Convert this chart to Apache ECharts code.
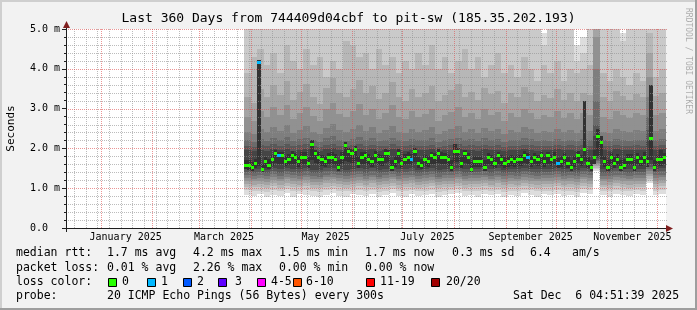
<!DOCTYPE html>
<html><head><meta charset="utf-8">
<script src="https://cdn.jsdelivr.net/npm/echarts@6/dist/echarts.min.js"></script>
<style>html,body{margin:0;padding:0;background:#f2f2f2;}#c{width:697px;height:310px;}</style>
</head><body><div id="c"></div>
<script>
// ---------------- data ----------------
const titleText = 'Last 360 Days from 744409d04cbf to pit-sw (185.35.202.193)';
const startTs = Date.UTC(2024, 11, 11, 4, 51, 39);   // now - 360 days
const spanDays = 360;
const dataStartDay = 106.8;                           // first day with data
const monthLabels = ['January 2025', 'March 2025', 'May 2025', 'July 2025', 'September 2025', 'November 2025'];
const monthLabelMonths = [0, 2, 4, 6, 8, 10];
const yTickLabels = ['0.0', '1.0 m', '2.0 m', '3.0 m', '4.0 m', '5.0 m'];

// median rtt (ms), one value per 2-day column
const median = [
1.58,1.58,1.51,1.63,4.17,1.47,1.66,1.58,1.71,1.86,
1.81,1.81,1.66,1.73,1.83,1.76,1.66,1.76,1.78,1.63,
2.11,1.86,1.78,1.71,1.66,1.76,1.78,1.73,1.51,1.76,
2.08,1.91,1.88,1.98,1.63,1.76,1.81,1.73,1.66,1.83,
1.73,1.71,1.88,1.88,1.53,1.66,1.88,1.63,1.73,1.78,
1.73,1.91,1.63,1.58,1.71,1.66,1.81,1.76,1.88,1.78,
1.76,1.71,1.51,1.91,1.91,1.63,1.86,1.76,1.46,1.66,
1.66,1.66,1.51,1.76,1.71,1.63,1.81,1.71,1.63,1.66,
1.71,1.66,1.71,1.71,1.83,1.76,1.66,1.76,1.71,1.81,
1.66,1.81,1.71,1.78,1.61,1.66,1.76,1.63,1.53,1.66,
1.83,1.71,1.96,1.63,1.51,1.78,2.29,2.14,1.66,1.53,
1.76,1.63,1.73,1.51,1.58,1.73,1.73,1.51,1.76,1.68,
1.78,1.66,2.24,1.53,1.71,1.71,1.76];
// packet loss per column (index, lost pings); all others 0
const lossPoints = [[4,1],[10,1],[50,1],[85,1],[94,1]];
// innermost smoke (pings 10 and 11), same columns as median
const p10 = [
1.47,1.45,1.42,1.50,1.55,1.40,1.52,1.48,1.56,1.64,
1.62,1.60,1.55,1.58,1.62,1.60,1.54,1.60,1.61,1.52,
1.70,1.64,1.60,1.56,1.53,1.60,1.62,1.58,1.44,1.60,
1.68,1.66,1.64,1.68,1.52,1.60,1.62,1.58,1.54,1.63,
1.58,1.56,1.64,1.65,1.44,1.53,1.64,1.52,1.58,1.60,
1.58,1.66,1.52,1.48,1.56,1.54,1.62,1.60,1.64,1.61,
1.60,1.56,1.43,1.66,1.66,1.52,1.64,1.60,1.40,1.54,
1.54,1.54,1.44,1.60,1.56,1.52,1.62,1.56,1.52,1.54,
1.56,1.54,1.56,1.56,1.63,1.60,1.54,1.60,1.56,1.62,
1.54,1.62,1.56,1.61,1.50,1.54,1.60,1.52,1.44,1.54,
1.63,1.56,1.68,1.52,1.43,1.62,1.80,1.74,1.54,1.44,
1.60,1.52,1.58,1.43,1.48,1.58,1.58,1.43,1.60,1.55,
1.61,1.54,1.72,1.44,1.56,1.56,1.60];
const p11 = [
1.72,1.70,1.66,1.74,4.22,1.62,1.78,1.74,1.84,1.95,
1.92,1.90,1.82,1.86,1.94,1.88,1.80,1.90,1.90,1.78,
2.22,1.96,1.90,1.84,1.80,1.88,1.92,1.86,1.70,1.90,
2.16,2.00,1.98,2.06,1.80,1.90,1.92,1.86,1.82,1.94,
1.86,1.84,1.98,1.97,1.72,1.80,1.98,1.78,1.86,1.90,
1.86,2.00,1.78,1.74,1.84,1.80,1.92,1.88,1.98,1.90,
1.88,1.84,1.70,2.10,2.00,1.78,1.96,1.88,1.66,1.80,
1.78,1.80,1.70,1.88,1.84,1.78,1.92,1.84,1.78,1.80,
1.84,1.80,1.84,1.84,1.94,1.88,1.80,1.88,1.84,1.92,
1.80,1.92,1.84,1.90,1.76,1.80,1.88,1.78,1.72,1.80,
1.94,1.84,3.20,1.78,1.70,1.95,2.50,2.30,1.80,1.72,
1.88,1.78,1.86,1.70,1.74,1.86,1.86,1.70,1.88,1.82,
1.90,1.80,3.60,1.72,1.84,1.96,1.88];

// sorted ping levels (ms), one value per 4-day column (64 columns)
const p1 = [
0.84,0.80,0.86,0.78,0.83,0.81,0.87,0.79,0.85,0.82,0.80,0.77,0.84,0.88,0.81,0.79,
0.85,0.83,0.80,0.86,0.78,0.84,0.88,0.81,0.79,0.85,0.80,0.83,0.86,0.78,0.82,0.85,
0.88,0.80,0.84,0.79,0.86,0.82,0.85,0.78,0.83,0.80,0.87,0.84,0.79,0.85,0.82,0.86,
0.80,0.84,0.78,0.87,0.85,1.42,0.82,0.79,0.86,0.83,0.80,0.85,0.82,1.12,0.83,0.86];
const p2 = [
0.95,0.92,0.94,0.90,0.96,0.92,0.97,0.93,0.94,0.96,0.92,0.90,0.95,0.97,0.93,0.92,
0.94,0.96,0.93,0.95,0.90,0.94,0.97,0.93,0.92,0.95,0.92,0.94,0.96,0.90,0.93,0.95,
0.97,0.92,0.94,0.92,0.96,0.93,0.95,0.90,0.94,0.93,0.96,0.95,0.92,0.94,0.93,0.96,
0.93,0.94,0.90,0.97,0.95,1.48,0.93,0.92,0.96,0.94,0.92,0.95,0.93,1.18,0.94,0.96];
const p3 = [
1.04,1.02,1.03,1.01,1.05,1.01,1.06,1.03,1.02,1.05,1.01,1.00,1.04,1.06,1.02,1.01,
1.03,1.05,1.02,1.04,1.00,1.03,1.06,1.01,1.02,1.04,1.01,1.03,1.05,1.00,1.02,1.04,
1.06,1.01,1.03,1.02,1.05,1.02,1.04,1.00,1.03,1.02,1.05,1.04,1.01,1.03,1.02,1.05,
1.02,1.03,1.01,1.06,1.04,1.52,1.02,1.01,1.05,1.03,1.01,1.04,1.02,1.24,1.03,1.05];
const p4 = [
1.11,1.09,1.11,1.08,1.13,1.09,1.14,1.10,1.09,1.12,1.08,1.07,1.12,1.14,1.10,1.09,
1.11,1.13,1.09,1.12,1.07,1.11,1.14,1.09,1.10,1.12,1.08,1.10,1.13,1.07,1.10,1.11,
1.14,1.09,1.11,1.10,1.12,1.09,1.12,1.08,1.11,1.09,1.13,1.11,1.09,1.11,1.10,1.13,
1.09,1.11,1.08,1.14,1.11,1.56,1.09,1.08,1.12,1.10,1.09,1.11,1.10,1.30,1.10,1.12];
const p5 = [
1.19,1.17,1.18,1.16,1.21,1.17,1.22,1.18,1.17,1.20,1.16,1.15,1.20,1.22,1.18,1.16,
1.19,1.21,1.17,1.20,1.15,1.18,1.22,1.17,1.18,1.20,1.16,1.18,1.21,1.15,1.18,1.19,
1.22,1.17,1.19,1.18,1.20,1.17,1.20,1.16,1.19,1.17,1.21,1.19,1.17,1.19,1.18,1.21,
1.17,1.19,1.16,1.22,1.19,1.60,1.17,1.16,1.20,1.18,1.17,1.19,1.18,1.36,1.18,1.20];
const p6 = [
1.26,1.24,1.25,1.23,1.28,1.24,1.29,1.25,1.24,1.27,1.23,1.22,1.27,1.29,1.25,1.23,
1.26,1.28,1.24,1.27,1.22,1.25,1.29,1.24,1.25,1.27,1.23,1.25,1.28,1.22,1.25,1.26,
1.29,1.24,1.26,1.25,1.27,1.24,1.27,1.23,1.26,1.24,1.28,1.26,1.24,1.26,1.25,1.28,
1.24,1.26,1.23,1.29,1.26,1.64,1.24,1.23,1.27,1.25,1.24,1.26,1.25,1.42,1.25,1.27];
const p7 = [
1.33,1.31,1.33,1.30,1.35,1.31,1.36,1.32,1.31,1.34,1.30,1.29,1.34,1.36,1.32,1.30,
1.33,1.35,1.31,1.34,1.29,1.32,1.36,1.31,1.32,1.34,1.30,1.32,1.35,1.29,1.32,1.33,
1.36,1.31,1.33,1.32,1.34,1.31,1.34,1.30,1.33,1.31,1.35,1.33,1.31,1.33,1.32,1.35,
1.31,1.33,1.30,1.36,1.33,1.68,1.31,1.30,1.34,1.32,1.31,1.33,1.32,1.48,1.32,1.34];
const p8 = [
1.41,1.39,1.40,1.38,1.43,1.39,1.44,1.40,1.39,1.42,1.38,1.37,1.42,1.44,1.40,1.38,
1.41,1.43,1.39,1.42,1.37,1.40,1.44,1.39,1.40,1.42,1.38,1.40,1.43,1.37,1.40,1.41,
1.44,1.39,1.41,1.40,1.42,1.39,1.42,1.38,1.41,1.39,1.43,1.41,1.39,1.41,1.40,1.43,
1.39,1.41,1.38,1.44,1.41,1.72,1.39,1.38,1.42,1.40,1.39,1.41,1.40,1.54,1.40,1.42];
const p9 = [
1.49,1.47,1.48,1.46,1.51,1.47,1.52,1.48,1.47,1.50,1.46,1.45,1.50,1.52,1.48,1.46,
1.49,1.51,1.47,1.50,1.45,1.48,1.52,1.47,1.48,1.50,1.46,1.48,1.51,1.45,1.48,1.49,
1.52,1.47,1.49,1.48,1.50,1.47,1.50,1.46,1.49,1.47,1.51,1.49,1.47,1.49,1.48,1.51,
1.47,1.49,1.46,1.52,1.49,1.76,1.47,1.46,1.50,1.48,1.47,1.49,1.48,1.60,1.48,1.50];
const p12 = [
1.95,1.93,1.97,1.94,1.98,1.96,1.99,1.94,1.97,1.99,1.95,1.93,1.98,2.00,1.96,1.94,
1.97,1.99,1.95,1.98,1.94,1.96,1.99,1.95,1.94,1.97,1.95,1.96,1.98,1.93,1.96,1.97,
1.99,1.95,1.97,1.94,1.98,1.96,1.97,1.93,1.96,1.95,1.98,1.97,1.94,1.96,1.95,1.98,
1.95,1.97,1.94,1.97,1.96,2.30,1.95,1.94,1.98,1.96,1.95,1.97,1.96,2.20,1.96,1.98];
const p13 = [
2.06,2.04,2.08,2.05,2.10,2.07,2.11,2.05,2.08,2.10,2.06,2.04,2.09,2.12,2.07,2.05,
2.08,2.11,2.06,2.09,2.05,2.07,2.10,2.06,2.05,2.08,2.06,2.07,2.09,2.04,2.07,2.08,
2.10,2.06,2.08,2.05,2.09,2.07,2.08,2.04,2.07,2.06,2.09,2.08,2.05,2.07,2.06,2.09,
2.06,2.08,2.05,2.08,2.07,2.60,2.06,2.05,2.09,2.07,2.06,2.08,2.07,2.45,2.07,2.09];
const p14 = [
2.20,2.17,2.24,2.19,2.26,2.21,2.28,2.18,2.23,2.27,2.20,2.17,2.25,2.30,2.22,2.19,
2.24,2.29,2.21,2.26,2.18,2.22,2.27,2.20,2.18,2.24,2.20,2.22,2.26,2.17,2.21,2.23,
2.27,2.20,2.23,2.18,2.25,2.21,2.23,2.17,2.22,2.20,2.25,2.23,2.18,2.21,2.19,2.24,
2.19,2.22,2.18,2.23,2.21,3.20,2.20,2.18,2.24,2.21,2.19,2.22,2.21,2.80,2.21,2.23];
const p15 = [
2.42,2.36,2.50,2.40,2.55,2.44,2.58,2.38,2.47,2.56,2.42,2.35,2.52,2.62,2.45,2.40,
2.50,2.60,2.44,2.54,2.38,2.46,2.57,2.42,2.38,2.50,2.42,2.45,2.54,2.36,2.44,2.48,
2.56,2.42,2.48,2.38,2.52,2.44,2.48,2.35,2.46,2.42,2.53,2.48,2.38,2.44,2.40,2.50,
2.40,2.46,2.38,2.47,2.44,4.00,2.42,2.38,2.50,2.44,2.40,2.46,2.44,3.30,2.44,2.48];
const p16 = [
2.80,2.70,2.95,2.78,3.05,2.85,3.10,2.75,2.90,3.05,2.82,2.68,2.98,3.15,2.86,2.78,
2.95,3.12,2.85,3.00,2.75,2.88,3.08,2.80,2.74,2.95,2.80,2.86,3.00,2.70,2.84,2.92,
3.05,2.80,2.90,2.74,2.98,2.85,2.92,2.68,2.88,2.80,3.00,2.90,2.74,2.84,2.78,2.95,
2.76,2.88,2.74,2.90,2.85,4.80,2.80,2.74,2.94,2.84,2.76,2.88,2.84,3.80,2.84,2.90];
const p17 = [
3.30,3.15,3.50,3.28,3.60,3.35,3.70,3.22,3.42,3.62,3.30,3.12,3.52,3.78,3.40,3.28,
3.50,3.72,3.38,3.58,3.24,3.40,3.66,3.30,3.20,3.48,3.30,3.38,3.56,3.18,3.34,3.46,
3.62,3.30,3.42,3.22,3.52,3.36,3.44,3.14,3.38,3.28,3.55,3.42,3.20,3.34,3.26,3.48,
3.22,3.38,3.20,3.40,3.34,5.20,3.28,3.20,3.44,3.32,3.22,3.36,3.30,4.40,3.32,3.40];
const p18 = [
3.90,4.30,4.50,4.10,4.40,3.90,4.60,4.20,4.00,4.50,4.10,4.30,3.80,4.20,4.00,4.70,
4.60,4.30,4.40,4.00,4.50,4.10,4.30,3.90,4.20,4.00,4.40,4.10,4.60,4.00,4.30,3.90,
4.20,4.50,4.00,4.30,3.80,4.10,4.40,3.90,4.10,3.80,4.30,4.00,3.70,4.10,3.90,4.20,
3.70,4.00,3.90,4.00,4.10,5.40,3.90,3.70,4.00,3.80,3.60,3.90,3.70,4.90,3.80,4.00];
const p19 = [
5.6,5.9,6.2,5.4,5.8,5.3,6.0,5.7,5.5,6.1,5.6,5.8,5.2,5.7,5.5,6.3,
6.1,5.8,5.9,5.4,6.0,5.6,5.7,5.3,5.8,5.5,5.9,5.6,6.1,5.4,5.7,5.2,
5.6,5.9,5.4,5.7,5.2,5.5,5.8,5.1,5.6,5.2,5.7,5.4,5.1,4.6,5.3,5.6,
5.2,5.4,4.2,4.4,5.5,6.5,5.3,5.1,5.4,4.7,5.2,5.3,5.1,6.0,5.2,5.4];
const p20 = [
7.0,7.5,8.0,6.8,7.2,6.9,7.8,7.1,6.7,7.6,7.0,7.3,6.6,7.1,6.9,8.0,
7.6,7.2,7.4,6.8,7.5,7.0,7.1,6.7,7.2,6.9,7.4,7.0,7.6,6.8,7.1,6.6,
7.0,7.3,6.8,7.1,6.6,6.9,7.2,6.5,7.0,6.6,7.1,6.8,6.5,4.9,6.7,7.0,
6.6,6.8,4.6,4.8,6.9,8.0,6.7,6.5,6.8,4.9,6.6,6.7,6.5,7.5,6.6,6.8];

const statsRtt = ['median rtt:', '1.7 ms avg', '4.2 ms max', '1.5 ms min', '1.7 ms now', '0.3 ms sd', '6.4', 'am/s'];
const statsLoss = ['packet loss:', '0.01 % avg', '2.26 % max', '0.00 % min', '0.00 % now'];
const lossLabels = ['0', '1', '2', '3', '4-5', '6-10', '11-19', '20/20'];
const lossColors = ['#26ff00', '#00b8ff', '#0059ff', '#5e00ff', '#ff00ff', '#ff5500', '#ff0000', '#a10000'];
const probeText = ['probe:', '20 ICMP Echo Pings (56 Bytes) every 300s', 'Sat Dec  6 04:51:39 2025'];

// ---------------- helpers ----------------
const DAY = 86400000;
const toDay = ts => (ts - startTs) / DAY;
const YMAX = 5;
const clampY = v => Math.max(0, Math.min(YMAX, v));
const shades = ['#dddddd','#cacaca','#b7b7b7','#a4a4a4','#919191','#7e7e7e','#6b6b6b','#585858','#454545','#323232'];
const lowerP = [p1,p2,p3,p4,p5,p6,p7,p8,p9];
const upperP = [p20,p19,p18,p17,p16,p15,p14,p13,p12];
const smokeW = (spanDays - dataStartDay) / p1.length;
const medW = (spanDays - dataStartDay) / median.length;
const lossOf = {};
lossPoints.forEach(([i, n]) => { lossOf[i] = n; });
function lossColorIdx(n){ if(n<=3) return n; if(n<=5) return 4; if(n<=10) return 5; if(n<=19) return 6; return 7; }

const monthLines = [];
for (let m = 0; m < 12; m++) monthLines.push([toDay(Date.UTC(2025, m, 1)), 1]);
const weekLines = [];
{ let t = Date.UTC(2024, 11, 16); while (toDay(t) < spanDays) { const d = toDay(t); if (!monthLines.some(ml => Math.abs(ml[0]-d) < 0.6)) weekLines.push([d, 0]); t += 7*DAY; } }
const hLines = [];
for (let k = 1; k <= 25; k++) hLines.push([0, k/5, k % 5 === 0 ? 1 : 0]);
const labelDays = monthLabelMonths.map(m => toDay(Date.UTC(2025, m, 16)));

const MONO = '"DejaVu Sans Mono", monospace';
const chart = echarts.init(document.getElementById('c'), null, {renderer: 'canvas'});

const smokeSeries = {
  type: 'custom', z: 1, silent: true, animation: false,
  data: p1.map((_, j) => [dataStartDay + j * smokeW, 0, j]),
  renderItem(params, api) {
    const j = api.value(2);
    const xa = Math.round(api.coord([dataStartDay + j * smokeW, 0])[0]);
    const xb = Math.round(api.coord([dataStartDay + (j + 1) * smokeW, 0])[0]);
    const children = [];
    for (let k = 0; k < 9; k++) {
      const yl = Math.round(api.coord([0, clampY(lowerP[k][j])])[1]);
      const yh = Math.round(api.coord([0, clampY(upperP[k][j])])[1]);
      children.push({type: 'rect', shape: {x: xa, y: yh, width: xb - xa, height: yl - yh}, style: {fill: shades[k]}});
    }
    return {type: 'group', children};
  }
};
const innerSeries = {
  type: 'custom', z: 2, silent: true, animation: false,
  data: median.map((_, i) => [dataStartDay + i * medW, 0, i]),
  renderItem(params, api) {
    const i = api.value(2);
    const xa = Math.round(api.coord([dataStartDay + i * medW, 0])[0]);
    const xb = Math.round(api.coord([dataStartDay + (i + 1) * medW, 0])[0]);
    const yl = Math.round(api.coord([0, clampY(p10[i])])[1]);
    const yh = Math.round(api.coord([0, clampY(p11[i])])[1]);
    return {type: 'rect', shape: {x: xa, y: yh, width: xb - xa, height: yl - yh}, style: {fill: shades[9]}};
  }
};
const vGridSeries = {
  type: 'custom', z: 3, silent: true, animation: false,
  data: weekLines.concat(monthLines),
  renderItem(params, api) {
    const cs = params.coordSys;
    const x = Math.round(api.coord([api.value(0), 0])[0]) + 0.5;
    const major = api.value(1) === 1;
    return {type: 'line', shape: {x1: x, y1: cs.y, x2: x, y2: cs.y + cs.height},
      style: {stroke: major ? 'rgba(222,79,79,0.6)' : 'rgba(143,143,143,0.6)', lineWidth: 1, lineDash: [1, 1]}};
  }
};
const hGridSeries = {
  type: 'custom', z: 3, silent: true, animation: false,
  data: hLines,
  renderItem(params, api) {
    const cs = params.coordSys;
    const y = Math.round(api.coord([0, api.value(1)])[1]) + 0.5;
    const major = api.value(2) === 1;
    return {type: 'line', shape: {x1: cs.x, y1: y, x2: cs.x + cs.width + 2, y2: y},
      style: {stroke: major ? 'rgba(222,79,79,0.6)' : 'rgba(143,143,143,0.6)', lineWidth: 1, lineDash: [1, 1]}};
  }
};
const medianSeries = {
  type: 'custom', z: 4, silent: true, animation: false,
  data: median.map((v, i) => [dataStartDay + i * medW, v, i]),
  renderItem(params, api) {
    const i = api.value(2);
    const xa = Math.round(api.coord([dataStartDay + i * medW, 0])[0]);
    const xb = Math.round(api.coord([dataStartDay + (i + 1) * medW, 0])[0]);
    const yc = api.coord([0, clampY(median[i])])[1];
    const col = lossColors[lossColorIdx(lossOf[i] || 0)];
    return {type: 'rect', shape: {x: xa, y: Math.round(yc - 1.5), width: xb - xa, height: 3}, style: {fill: col}};
  }
};

// graphic texts and frame
const g = [];
g.push({type: 'rect', shape: {x: 0, y: 0, width: 697, height: 2}, style: {fill: '#cfcfcf'}, silent: true});
g.push({type: 'rect', shape: {x: 0, y: 0, width: 2, height: 310}, style: {fill: '#cfcfcf'}, silent: true});
g.push({type: 'rect', shape: {x: 0, y: 308, width: 697, height: 2}, style: {fill: '#9e9e9e'}, silent: true});
g.push({type: 'rect', shape: {x: 695, y: 0, width: 2, height: 310}, style: {fill: '#9e9e9e'}, silent: true});
// axis extensions and arrows (rrdtool style)
g.push({type: 'line', z: 10, shape: {x1: 66.5, y1: 232, x2: 66.5, y2: 24}, style: {stroke: '#1f1f1f', lineWidth: 1}});
g.push({type: 'line', z: 10, shape: {x1: 62, y1: 228.5, x2: 668, y2: 228.5}, style: {stroke: '#1f1f1f', lineWidth: 1}});
g.push({type: 'polygon', z: 11, shape: {points: [[66.5, 21], [63, 28], [70, 28]]}, style: {fill: '#801f1f'}});
g.push({type: 'polygon', z: 11, shape: {points: [[673, 228.5], [666, 225], [666, 232]]}, style: {fill: '#801f1f'}});
g.push({type: 'text', x: 348.5, y: 19, style: {text: titleText, font: '13px ' + MONO, fill: '#000', align: 'center', verticalAlign: 'middle'}});
g.push({type: 'text', x: 11.5, y: 128.5, rotation: Math.PI / 2, style: {text: 'Seconds', font: '11px ' + MONO, fill: '#000', align: 'center', verticalAlign: 'middle'}});
g.push({type: 'text', x: 688.5, y: 8, rotation: -Math.PI / 2, style: {text: 'RRDTOOL / TOBI OETIKER', font: '8px ' + MONO, fill: 'rgba(0,0,0,0.3)', align: 'left', verticalAlign: 'middle'}});
const LF = '11.5px ' + MONO;
const rttX = [16, 107, 193, 279, 365, 452, 530, 572];
statsRtt.forEach((t, k) => g.push({type: 'text', x: rttX[k], y: 253.5, style: {text: t, font: LF, fill: '#000', align: 'left', verticalAlign: 'middle'}}));
statsLoss.forEach((t, k) => g.push({type: 'text', x: rttX[k], y: 268, style: {text: t, font: LF, fill: '#000', align: 'left', verticalAlign: 'middle'}}));
g.push({type: 'text', x: 16, y: 282, style: {text: 'loss color:', font: LF, fill: '#000', align: 'left', verticalAlign: 'middle'}});
const boxX = [108, 147, 183, 218, 257, 293, 366, 431];
const lblX = [122, 161, 197, 235, 271, 306, 380, 446];
lossLabels.forEach((t, k) => {
  g.push({type: 'rect', shape: {x: boxX[k] + 0.5, y: 278.5, width: 8, height: 8}, style: {fill: lossColors[k], stroke: '#000', lineWidth: 1}});
  g.push({type: 'text', x: lblX[k], y: 282, style: {text: t, font: LF, fill: '#000', align: 'left', verticalAlign: 'middle'}});
});
const probeX = [16, 107, 513];
probeText.forEach((t, k) => g.push({type: 'text', x: probeX[k], y: 296.5, style: {text: t, font: LF, fill: '#000', align: 'left', verticalAlign: 'middle'}}));

chart.setOption({
  backgroundColor: '#f2f2f2',
  animation: false,
  grid: {left: 66, top: 29, width: 600, height: 199, show: true, backgroundColor: '#ffffff', borderWidth: 0},
  xAxis: {
    type: 'value', min: 0, max: spanDays, z: 5,
    axisLine: {show: false},
    axisTick: {show: false}, splitLine: {show: false},
    axisLabel: {customValues: labelDays, margin: 4, fontFamily: MONO, fontSize: 10, color: '#000',
      formatter: v => { const k = labelDays.findIndex(d => Math.abs(d - v) < 0.01); return k >= 0 ? monthLabels[k] : ''; }}
  },
  yAxis: {
    type: 'value', min: 0, max: YMAX, interval: 1, z: 5,
    axisLine: {show: false},
    axisTick: {show: true, length: 4, lineStyle: {color: '#1f1f1f'}},
    minorTick: {show: true, splitNumber: 5, length: 2, lineStyle: {color: '#1f1f1f'}},
    splitLine: {show: false},
    axisLabel: {align: 'left', margin: 36, fontFamily: MONO, fontSize: 10, color: '#000',
      formatter: v => yTickLabels[Math.round(v)] }
  },
  graphic: g,
  series: [smokeSeries, innerSeries, vGridSeries, hGridSeries, medianSeries]
});
</script></body></html>
